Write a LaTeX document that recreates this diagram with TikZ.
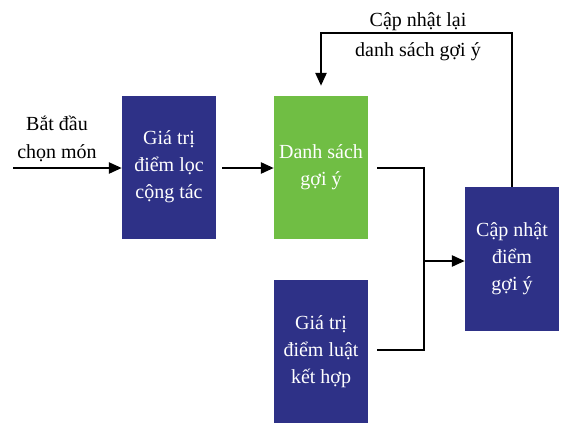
\documentclass[tikz,border=0pt]{standalone}
\usepackage{fontspec}
\setmainfont{Liberation Serif}
\usetikzlibrary{arrows.meta}
\definecolor{boxblue}{RGB}{46,49,135}
\definecolor{boxgreen}{RGB}{112,190,68}
\begin{document}
\begin{tikzpicture}[x=1pt,y=-1pt,
  blk/.style={minimum width=94pt,minimum height=143pt,inner sep=0pt,
    text=white,align=center,font=\fontsize{20}{27}\selectfont},
  lbl/.style={align=center,font=\fontsize{20}{28}\selectfont,inner sep=0pt},
  conn/.style={line width=2.5pt},
  arr/.style={conn,-{Triangle[length=13pt,width=11pt]}}]
\useasboundingbox (0,0) rectangle (561,423);
\node[blk,fill=boxblue] (b1) at (169,167) {Giá trị\\điểm lọc\\cộng tác};
\node[blk,fill=boxgreen] (g) at (321,167.5) {Danh sách\\gợi ý};
\node[blk,fill=boxblue] (b3) at (321,351.5) {Giá trị\\điểm luật\\kết hợp};
\node[blk,fill=boxblue,minimum height=144pt] (b4) at (512,259) {Cập nhật\\điểm\\gợi ý};
\coordinate (start) at (13,168);
\coordinate (jt) at (424,168);
\coordinate (jb) at (424,350);
\coordinate (jm) at (424,261);
\coordinate (fr) at (512,33);
\coordinate (fl) at (321,33);
\draw[arr] (start) -- (b1.west |- start);
\draw[arr,shorten <=6pt] (b1.east |- start) -- (g.west |- start);
\draw[conn,shorten <=9pt,shorten >=9pt] (g.east |- jt) -- (jt) -- (jb) -- (b3.east |- jb);
\draw[arr] (jm) -- (b4.west |- jm);
\draw[arr,shorten >=10pt] (b4.north) -- (fr) -- (fl) -- (g.north);
\node[lbl] (inl) at (57,139) {Bắt đầu\\chọn món};
\node[lbl,font=\fontsize{20}{30}\selectfont] (fbl) at (418,37) {Cập nhật lại\\danh sách gợi ý};
\end{tikzpicture}
\end{document}
